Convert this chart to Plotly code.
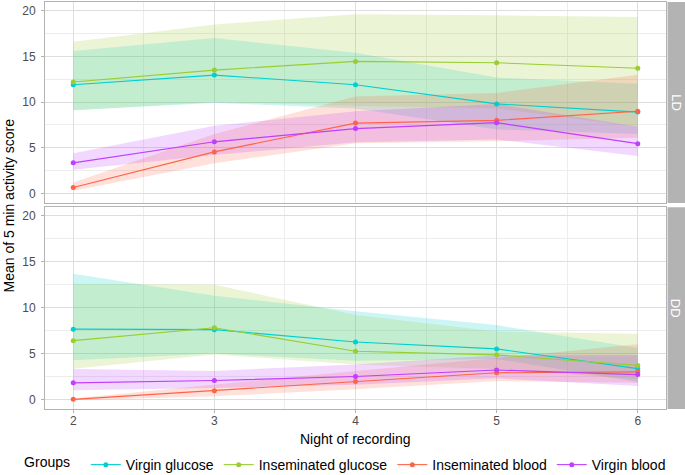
import plotly.graph_objects as go

nights = [2, 3, 4, 5, 6]
groups = ["Virgin glucose", "Inseminated glucose", "Inseminated blood", "Virgin blood"]
colors = ["#00CED1", "#9ACD32", "#FF6347", "#BF3EFF"]
panels = ["LD", "DD"]

# LD panel: mean, lower, upper per group
ld_vg_mean = [11.9, 12.95, 11.9, 9.8, 8.9]
ld_vg_lo = [9.1, 9.9, 9.3, 7.0, 6.5]
ld_vg_hi = [15.6, 17.0, 15.4, 12.7, 12.0]
ld_ig_mean = [12.2, 13.5, 14.45, 14.3, 13.7]
ld_ig_lo = [9.1, 10.0, 9.6, 9.3, 7.3]
ld_ig_hi = [16.6, 18.5, 19.6, 19.5, 19.3]
ld_ib_mean = [0.65, 4.55, 7.7, 8.0, 9.0]
ld_ib_lo = [0.3, 3.3, 5.5, 5.7, 6.1]
ld_ib_hi = [1.2, 6.5, 10.6, 11.0, 13.0]
ld_vb_mean = [3.35, 5.65, 7.1, 7.75, 5.45]
ld_vb_lo = [2.6, 4.2, 5.6, 5.9, 4.1]
ld_vb_hi = [4.4, 7.4, 9.0, 9.8, 7.3]

# DD panel
dd_vg_mean = [7.65, 7.6, 6.25, 5.5, 3.35]
dd_vg_lo = [4.25, 5.0, 4.2, 4.4, 1.9]
dd_vg_hi = [13.7, 11.3, 9.6, 8.1, 5.6]
dd_ig_mean = [6.4, 7.8, 5.25, 4.85, 3.7]
dd_ig_lo = [3.35, 4.9, 3.8, 3.3, 2.2]
dd_ig_hi = [12.6, 12.5, 9.2, 7.4, 7.15]
dd_ib_mean = [0.0, 0.95, 1.95, 2.9, 3.0]
dd_ib_lo = [-0.1, 0.35, 1.1, 2.0, 1.8]
dd_ib_hi = [0.1, 1.6, 3.1, 4.5, 6.0]
dd_vb_mean = [1.8, 2.05, 2.5, 3.2, 2.7]
dd_vb_lo = [1.0, 1.25, 1.6, 2.3, 1.45]
dd_vb_hi = [3.3, 3.1, 3.8, 4.8, 4.8]

y_ticks = [0, 5, 10, 15, 20]

data = {
    "LD": [(ld_vg_mean, ld_vg_lo, ld_vg_hi), (ld_ig_mean, ld_ig_lo, ld_ig_hi),
           (ld_ib_mean, ld_ib_lo, ld_ib_hi), (ld_vb_mean, ld_vb_lo, ld_vb_hi)],
    "DD": [(dd_vg_mean, dd_vg_lo, dd_vg_hi), (dd_ig_mean, dd_ig_lo, dd_ig_hi),
           (dd_ib_mean, dd_ib_lo, dd_ib_hi), (dd_vb_mean, dd_vb_lo, dd_vb_hi)],
}


def rgba(hexc, a):
    h = hexc.lstrip("#")
    r, g, b = int(h[0:2], 16), int(h[2:4], 16), int(h[4:6], 16)
    return f"rgba({r},{g},{b},{a})"


fig = go.Figure()
axes = {"LD": ("x", "y"), "DD": ("x2", "y2")}

for p in panels:
    xa, ya = axes[p]
    for gi, g in enumerate(groups):
        m, lo, hi = data[p][gi]
        fig.add_trace(go.Scatter(
            x=nights + nights[::-1], y=hi + lo[::-1], fill="toself",
            fillcolor=rgba(colors[gi], 0.2), line=dict(width=0),
            mode="lines", showlegend=False, hoverinfo="skip",
            xaxis=xa, yaxis=ya))
    for gi, g in enumerate(groups):
        m, lo, hi = data[p][gi]
        fig.add_trace(go.Scatter(
            x=nights, y=m, mode="lines+markers", name=g,
            line=dict(color=colors[gi], width=1.1),
            marker=dict(color=colors[gi], size=5),
            showlegend=(p == "LD"), legendgroup=g,
            xaxis=xa, yaxis=ya))

grid_major = "#DEDEDE"
grid_minor = "#EDEDED"
border = "#B3B3B3"
FONT = "Liberation Sans, Arial, sans-serif"
tickfont = dict(family=FONT, size=12, color="#4D4D4D")

common_x = dict(range=[1.8, 6.2], tickvals=nights, showgrid=True, gridcolor=grid_major,
                gridwidth=1, zeroline=False, showline=True, linecolor=border, linewidth=1,
                mirror=True, automargin=False,
                minor=dict(dtick=0.5, tick0=2, showgrid=True, gridcolor=grid_minor, gridwidth=1),
                tickfont=tickfont)
common_y = dict(range=[-1.05, 20.95], tickvals=y_ticks, showgrid=True, gridcolor=grid_major,
                gridwidth=1, zeroline=False, showline=True, linecolor=border, linewidth=1,
                mirror=True, ticks="outside", ticklen=3, tickcolor=border, automargin=False,
                ticklabelstandoff=3,
                minor=dict(dtick=2.5, tick0=0, showgrid=True, gridcolor=grid_minor, gridwidth=1),
                tickfont=tickfont)

top_lo = 0.506
bot_hi = 0.496

fig.update_layout(
    width=685, height=475,
    margin=dict(l=45, r=19, t=2, b=66),
    paper_bgcolor="white", plot_bgcolor="white",
    font=dict(family=FONT, size=14, color="black"),
    xaxis=dict(common_x, anchor="y", domain=[0, 1], showticklabels=False, ticks=""),
    yaxis=dict(common_y, anchor="x", domain=[top_lo, 1]),
    xaxis2=dict(common_x, anchor="y2", domain=[0, 1], ticks="outside", ticklen=3,
                tickcolor=border, ticklabelstandoff=-2),
    yaxis2=dict(common_y, anchor="x2", domain=[0, bot_hi]),
    legend=dict(orientation="h", xref="container", x=0.506, xanchor="center",
                yref="container", y=0.021, yanchor="middle",
                title=dict(text="Groups  ", side="left", font=dict(size=14)),
                font=dict(size=14), itemwidth=30, tracegroupgap=0),
    showlegend=True,
)

# facet strips
for p, (y0, y1) in zip(panels, [(top_lo, 1), (0, bot_hi)]):
    fig.add_shape(type="rect", xref="paper", yref="paper", x0=1.0025, x1=1.035,
                  y0=y0, y1=y1, fillcolor="#B3B3B3", line=dict(width=0), layer="above")
    fig.add_annotation(xref="paper", yref="paper", x=1.0165, y=(y0 + y1) / 2,
                       xanchor="center", yanchor="middle",
                       text=p, showarrow=False, textangle=90,
                       font=dict(size=13, color="white"))

fig.add_annotation(xref="paper", yref="paper", x=-0.058, y=0.5, xanchor="center",
                   yanchor="middle", text="Mean of 5 min activity score", showarrow=False,
                   textangle=-90, font=dict(size=14, color="black"))
fig.add_annotation(xref="paper", yref="paper", x=0.5, y=-0.074, xanchor="center",
                   yanchor="middle", text="Night of recording", showarrow=False,
                   font=dict(size=14, color="black"))

fig.write_html("out.html", config={"displayModeBar": False},
               post_script="document.body.style.margin='0';document.body.style.padding='0';document.body.style.overflow='hidden';")
